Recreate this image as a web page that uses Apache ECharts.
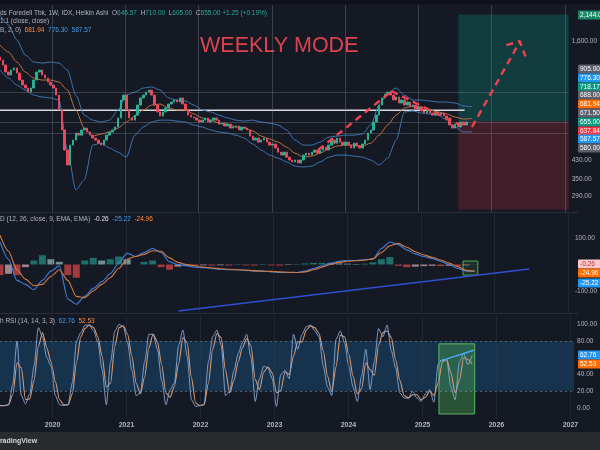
<!DOCTYPE html>
<html><head><meta charset="utf-8">
<script src="https://cdn.jsdelivr.net/npm/echarts@6/dist/echarts.min.js"></script>
<style>html,body{margin:0;padding:0;background:#151924;}#c{width:600px;height:450px;}</style>
</head><body><div id="c"></div>
<script>
// ---------- data ----------
const startYear = 2019.29;           // left edge of the chart
const WEEK = 7 / 365.25;
const X_MIN = 2019.29, X_MAX = 2027.05;
const yearTicks = [2020, 2021, 2022, 2023, 2024, 2025, 2026, 2027];

// Heikin Ashi closes, one every two weeks
const closes = [1297,1228,1137,1100,1162,1190,1124,1041,985,953,
 912,953,1041,1137,1162,1100,1064,1018,985,953,
 882,748,600,481,408,508,537,580,567,600,
 613,587,567,549,537,519,508,537,567,587,
 600,620,685,835,882,748,685,669,707,790,
 854,882,912,932,882,790,732,700,732,765,
 799,817,835,817,854,799,748,707,692,685,
 669,655,669,685,655,669,685,669,640,647,
 627,640,613,620,627,600,620,613,600,561,
 537,549,525,537,549,525,508,514,492,470,
 455,470,445,431,422,431,417,431,455,465,
 455,470,481,465,481,497,481,508,537,519,
 549,525,508,525,508,492,519,503,492,514,
 537,580,600,655,707,790,854,892,912,882,
 835,863,808,835,790,817,773,790,756,773,
 740,724,748,724,707,732,707,724,700,685,
 634,613,640,620,655,634,655];
const firstOpen = 1340;

// Bollinger bands, one point every six weeks
const bbUpper = [2130,1910,1618,1371,1269,1255,1269,1255,1162,882,
 707,669,655,669,748,882,912,953,964,932,
 854,835,826,790,748,732,707,685,669,662,
 669,655,647,634,600,537,508,508,525,555,
 561,567,567,574,634,790,902,953,882,835,
 835,826,817,817,808,782,776.30];
const bbLower = [1162,1064,985,932,882,863,854,835,481,310,
 346,508,519,492,470,445,567,620,655,669,
 669,662,655,634,620,600,587,580,567,549,
 514,481,455,440,422,403,399,403,422,445,
 455,455,450,445,431,408,440,537,732,740,
 724,716,707,669,620,587,587.57];
const bbBasis = [1530,1417,1269,1137,1064,1041,1041,1018,932,748,
 613,561,574,587,613,655,700,748,790,799,
 765,748,748,716,685,669,647,640,620,613,
 594,561,543,525,497,465,445,450,465,486,
 503,508,508,503,519,567,634,707,765,782,
 773,748,732,716,692,677,681.94];

// MACD, one point every six weeks
const macdLine = [85,20,-60,-75,-95,-60,-25,-5,-130,-150,
 -120,-90,-65,-35,5,43,30,45,60,45,
 10,0,-5,-10,-12,-15,-18,-20,-20,-22,
 -25,-25,-28,-30,-30,-30,-25,-15,-5,5,
 12,15,15,18,20,60,85,75,55,40,
 30,22,12,0,-15,-25,-25.22];
const signalLine = [110,50,-20,-55,-80,-75,-45,-20,-60,-120,
 -125,-100,-75,-50,-15,20,30,38,52,50,
 25,8,0,-5,-10,-13,-16,-18,-20,-21,
 -23,-25,-26,-28,-29,-30,-28,-20,-10,0,
 8,12,14,16,22,45,70,80,65,48,
 36,27,17,5,-8,-22,-24.96];
const macdHist = [-40,-35,-40,-10,15,35,20,10,-40,-50,
 15,25,15,20,30,20,0,10,15,-10,
 -20,-8,-5,-5,-3,-4,-3,-4,2,-3,
 -4,2,-3,-4,-2,2,4,6,6,5,
 4,3,2,3,8,20,28,-5,-10,-8,
 -6,-5,-6,-5,-7,-3,-0.26];

// Stochastic RSI, one point every three weeks
const rsiK = [3,3,4,28,80,15,5,17,50,96,
 85,60,50,15,4,3,4,30,80,90,
 99,99,92,79,46,4,55,92,100,97,
 78,45,15,18,55,88,88,70,33,4,
 22,30,75,93,62,10,2,3,5,55,
 85,93,75,15,20,45,65,78,88,60,
 8,35,50,48,35,2,40,45,35,88,
 70,88,97,99,92,85,50,25,15,82,
 92,78,50,25,8,38,70,22,55,95,
 85,99,68,48,18,12,12,20,12,8,
 17,22,7,52,58,58,25,10,55,65,
 52,62.76];
const rsiD = [3,3,4,16,54,48,10,11,33,73,
 90,72,55,32,10,4,4,17,55,85,
 95,99,96,85,62,25,30,74,96,98,
 88,62,30,17,37,72,88,79,52,18,
 13,26,53,84,78,36,6,3,4,30,
 70,89,84,45,18,33,55,72,83,74,
 34,22,43,49,42,18,21,43,40,62,
 79,79,93,98,96,89,68,38,20,49,
 87,85,64,38,17,23,54,46,39,75,
 90,92,84,58,33,15,12,16,16,10,
 13,20,15,30,55,58,42,18,33,60,
 58,52.53];

// drawings (year, price / value)
const whiteLevel = [[2019.29, 745], [2025.63, 745]];
const levelLines = [905, 655, 580];
const arrowUp1 = [[2023.63, 481], [2024.62, 912]];
const arrowDown = [[2024.63, 922], [2025.57, 634]];
const arrowUp2 = [[2025.73, 620], [2026.38, 1580]];
const arrowHead = [[2026.20, 1530], [2026.38, 1600], [2026.46, 1350]];
const position = { from: 2025.545, to: 2027.05, entry: 660, target: 2144, stop: 250 };
const macdTrend = [[2021.71, -175], [2026.47, -17]];
const macdBox = { x0: 2025.572, x1: 2025.773, top: 13, bottom: -40 };
const rsiBox = { x0: 2025.223, x1: 2025.706, top: 76.6, bottom: -7 };
const rsiTrend = [[2025.236, 56], [2025.693, 69]];

const priceTicks = [1600, 430, 350, 290];
const macdTicks = [100, -100];
const rsiTicks = [100, 80, 40, 20, 0];

// ---------- build ----------
const candleData = closes.map((c, i) => {
  const o = i === 0 ? firstOpen : closes[i - 1];
  return [startYear + i * 2 * WEEK, o, c, Math.min(o, c), Math.max(o, c)];
});
const bbYear = i => startYear + i * 6 * WEEK;
const rsiYear = i => startYear + i * 3 * WEEK;
const pair = (arr, fx) => arr.map((v, i) => [fx(i), v]);

const FONT = 'Liberation Sans';
const axisTxt = '#b2b5be';

function xa(gi, show) {
  return {
    type: 'value', gridIndex: gi, min: X_MIN, max: X_MAX,
    axisLine: { show: false }, axisTick: { show: false }, splitLine: { show: false },
    axisLabel: show ? { customValues: yearTicks, formatter: v => String(Math.round(v)),
      color: axisTxt, fontSize: 7, margin: 3, fontFamily: FONT, fontWeight: 'bold' } : { show: false }
  };
}
function ya(gi, opts, ticks, fmt) {
  return Object.assign({
    gridIndex: gi, position: 'right', axisLine: { show: false }, axisTick: { show: false },
    splitLine: { show: false },
    axisLabel: { customValues: ticks, formatter: fmt, color: axisTxt, fontSize: 6.5, margin: 3, fontFamily: FONT }
  }, opts);
}
const yearLines = {
  silent: true, symbol: 'none', label: { show: false },
  lineStyle: { color: 'rgba(54,58,72,0.4)', width: 1, type: 'solid' },
  data: yearTicks.map(y => ({ xAxis: y }))
};

const histColors = macdHist.map((v, i) => {
  const p = i ? macdHist[i - 1] : 0;
  if (v >= 0) return v >= p ? '#26a69a' : '#b2dfdb';
  return v <= p ? '#ff5252' : '#ffcdd2';
});

const dash = { color: '#ef4352', width: 2.4, type: [7, 5] };
const sm = { smooth: 0.25, smoothMonotone: 'x' };

const option = {
  backgroundColor: '#151924',
  animation: false,
  grid: [
    { left: 0, top: 5, width: 578, height: 207 },
    { left: 0, top: 213, width: 578, height: 99 },
    { left: 0, top: 315, width: 578, height: 104 }
  ],
  xAxis: [xa(0, false), xa(1, false), xa(2, true)],
  yAxis: [
    ya(0, { type: 'log', logBase: 10, min: 243, max: 2380 }, priceTicks,
      v => Number(v).toLocaleString('en-US', { minimumFractionDigits: 2, maximumFractionDigits: 2 })),
    ya(1, { type: 'value', min: -179, max: 194 }, macdTicks, v => Number(v).toFixed(2)),
    ya(2, { type: 'value', min: -13, max: 111 }, rsiTicks, v => Number(v).toFixed(2))
  ],
  series: [
    // position boxes + level lines
    { type: 'line', xAxisIndex: 0, yAxisIndex: 0, data: whiteLevel, symbol: 'none',
      lineStyle: { color: '#d8dae0', width: 1.5 }, z: 3,
      markArea: { silent: true, data: [
        [{ xAxis: position.from, yAxis: position.entry, itemStyle: { color: 'rgba(8,153,129,0.28)' } },
         { xAxis: position.to, yAxis: position.target }],
        [{ xAxis: position.from, yAxis: position.stop, itemStyle: { color: 'rgba(242,54,69,0.2)' } },
         { xAxis: position.to, yAxis: position.entry }]
      ] },
      markLine: { silent: true, symbol: 'none', label: { show: false },
        lineStyle: { color: 'rgba(130,136,152,0.35)', width: 1, type: 'solid' },
        data: levelLines.map(v => ({ yAxis: v })).concat(yearLines.data) } },
    // Bollinger fill
    Object.assign({ type: 'line', xAxisIndex: 0, yAxisIndex: 0, stack: 'bb', data: pair(bbLower, bbYear),
      symbol: 'none', lineStyle: { opacity: 0 } }, sm),
    Object.assign({ type: 'line', xAxisIndex: 0, yAxisIndex: 0, stack: 'bb',
      data: bbUpper.map((u, i) => [bbYear(i), u - bbLower[i]]),
      symbol: 'none', lineStyle: { opacity: 0 },
      areaStyle: { color: 'rgba(33,150,243,0.07)' } }, sm),
    Object.assign({ type: 'line', xAxisIndex: 0, yAxisIndex: 0, data: pair(bbUpper, bbYear), symbol: 'none',
      lineStyle: { color: '#3f76b0', width: 1 } }, sm),
    Object.assign({ type: 'line', xAxisIndex: 0, yAxisIndex: 0, data: pair(bbLower, bbYear), symbol: 'none',
      lineStyle: { color: '#3f76b0', width: 1 } }, sm),
    Object.assign({ type: 'line', xAxisIndex: 0, yAxisIndex: 0, data: pair(bbBasis, bbYear), symbol: 'none',
      lineStyle: { color: '#c0703a', width: 1 } }, sm),
    // candles
    { type: 'candlestick', xAxisIndex: 0, yAxisIndex: 0, data: candleData, barWidth: 2,
      encode: { x: 0, y: [1, 2, 3, 4] }, z: 4,
      itemStyle: { color: '#2bb08f', color0: '#e8495c', borderColor: '#2bb08f', borderColor0: '#e8495c', borderWidth: 1 } },
    // dashed drawings
    { type: 'line', xAxisIndex: 0, yAxisIndex: 0, data: arrowUp1, symbol: 'none', lineStyle: dash, z: 6 },
    { type: 'line', xAxisIndex: 0, yAxisIndex: 0, data: arrowDown, symbol: 'none', lineStyle: dash, z: 6 },
    { type: 'line', xAxisIndex: 0, yAxisIndex: 0, data: arrowUp2, symbol: 'none', lineStyle: dash, z: 6 },
    { type: 'line', xAxisIndex: 0, yAxisIndex: 0, data: arrowHead, symbol: 'none', lineStyle: dash, z: 6 },

    // MACD pane
    { type: 'bar', xAxisIndex: 1, yAxisIndex: 1, barWidth: 7,
      data: macdHist.map((v, i) => ({ value: [bbYear(i), v], itemStyle: { color: histColors[i], opacity: 0.6 } })),
      markLine: yearLines },
    Object.assign({ type: 'line', xAxisIndex: 1, yAxisIndex: 1, data: pair(macdLine, bbYear), symbol: 'none',
      lineStyle: { color: '#3d80dc', width: 1.1 } }, sm),
    Object.assign({ type: 'line', xAxisIndex: 1, yAxisIndex: 1, data: pair(signalLine, bbYear), symbol: 'none',
      lineStyle: { color: '#d57b3f', width: 1.1 } }, sm),
    { type: 'line', xAxisIndex: 1, yAxisIndex: 1, data: macdTrend, symbol: 'none',
      lineStyle: { color: '#3050d0', width: 1.6 },
      markArea: { silent: true, data: [[
        { xAxis: macdBox.x0, yAxis: macdBox.top, itemStyle: { color: 'rgba(76,175,80,0.15)', borderColor: '#4caf50', borderWidth: 1 } },
        { xAxis: macdBox.x1, yAxis: macdBox.bottom }]] } },

    // Stoch RSI pane
    Object.assign({ type: 'line', xAxisIndex: 2, yAxisIndex: 2, data: pair(rsiD, rsiYear), symbol: 'none',
      lineStyle: { color: '#d69a72', width: 1.1 },
      markArea: { silent: true, data: [
        [{ xAxis: X_MIN, yAxis: 80, itemStyle: { color: 'rgba(33,150,243,0.2)' } }, { xAxis: X_MAX, yAxis: 20 }],
        [{ xAxis: rsiBox.x0, yAxis: rsiBox.top, itemStyle: { color: 'rgba(76,175,80,0.38)', borderColor: '#5cb860', borderWidth: 1 } },
         { xAxis: rsiBox.x1, yAxis: rsiBox.bottom }]
      ] },
      markLine: { silent: true, symbol: 'none', label: { show: false },
        lineStyle: { color: 'rgba(150,155,170,0.5)', width: 1, type: [2, 3] },
        data: [{ yAxis: 80 }, { yAxis: 20 }] } }, sm),
    Object.assign({ type: 'line', xAxisIndex: 2, yAxisIndex: 2, data: pair(rsiK, rsiYear), symbol: 'none',
      lineStyle: { color: '#86aad6', width: 1, opacity: 0.9 }, markLine: yearLines }, sm),
    { type: 'line', xAxisIndex: 2, yAxisIndex: 2, data: rsiTrend, symbol: 'none',
      lineStyle: { color: '#4aa8f5', width: 1.5 } }
  ],
  graphic: []
};

// ---------- text, tags, chrome ----------
const tags = [
  ['2,144.00', '#1b8a6b', '#ffffff', 15],
  ['905.00', '#5d606b', '#ffffff', 69],
  ['776.30', '#2196f3', '#ffffff', 78],
  ['718.17', '#089981', '#ffffff', 87],
  ['688.00', '#5d606b', '#ffffff', 95],
  ['681.94', '#ff6d00', '#ffffff', 104],
  ['671.50', '#5d606b', '#ffffff', 113],
  ['655.00', '#089981', '#ffffff', 122],
  ['637.84', '#f23645', '#ffffff', 131],
  ['587.57', '#2196f3', '#ffffff', 139],
  ['580.00', '#5d606b', '#ffffff', 148],
  ['-0.26', '#f7c9c9', '#c0303a', 264],
  ['-24.96', '#ff6d00', '#ffffff', 273],
  ['-25.22', '#2196f3', '#ffffff', 283],
  ['62.76', '#2196f3', '#ffffff', 355],
  ['52.53', '#ff6d00', '#ffffff', 364]
];
const g = option.graphic;
g.push({ type: 'rect', shape: { x: 0, y: 0, width: 600, height: 4 }, style: { fill: '#0e111a' }, silent: true });
g.push({ type: 'rect', shape: { x: 0, y: 212, width: 578, height: 1 }, style: { fill: '#2a2e39' }, silent: true });
g.push({ type: 'rect', shape: { x: 0, y: 313, width: 578, height: 1 }, style: { fill: '#2a2e39' }, silent: true });
g.push({ type: 'rect', shape: { x: 0, y: 432, width: 600, height: 18 }, style: { fill: '#2a2b2f' }, silent: true });
g.push({ type: 'text', x: -4, y: 441, style: { text: 'TradingView', fill: '#d1d4dc', font: 'bold 7px ' + FONT, verticalAlign: 'middle' }, silent: true });
tags.forEach(t => g.push({ type: 'text', x: 578, y: t[3], z: 100,
  style: { text: t[0], fill: t[2], backgroundColor: t[1], padding: [1, 8, 1, 2], font: '6.5px ' + FONT,
    verticalAlign: 'middle', borderRadius: 1 }, silent: true }));
g.push({ type: 'text', x: 200, y: 46, style: { text: 'WEEKLY MODE', fill: '#dc434e', font: '21.5px ' + FONT, verticalAlign: 'middle' }, silent: true });
const hdr = (y, text, rich) => g.push({ type: 'text', x: 0, y: y, z: 50,
  style: { text: text, fill: '#b2b5be', font: '6.5px ' + FONT, verticalAlign: 'middle', rich: rich }, silent: true });
const rich = {
  g: { fill: '#22ab94', font: '6.5px ' + FONT },
  o: { fill: '#ff8a3d', font: '6.5px ' + FONT },
  b: { fill: '#3d9df0', font: '6.5px ' + FONT },
  w: { fill: '#e0e3eb', font: '6.5px ' + FONT }
};
hdr(13, 'ds Foredell Tbk, 1W, IDX, Heikin Ashi  O{g|646.57}  H{g|710.00}  L{g|605.00}  C{g|655.00 +1.25 (+0.19%)}', rich);
hdr(21, '1:1 (close, close)', rich);
hdr(30, 'B, 2, 0)  {o|681.94}  {b|776.30}  {b|587.57}', rich);
hdr(219, 'D (12, 26, close, 9, EMA, EMA)  {w|-0.26}  {b|-25.22}  {o|-24.96}', rich);
hdr(321, 'h RSI (14, 14, 3, 3)  {b|62.76}  {o|52.53}', rich);

const chart = echarts.init(document.getElementById('c'), null, { renderer: 'canvas' });
chart.setOption(option);
</script></body></html>
